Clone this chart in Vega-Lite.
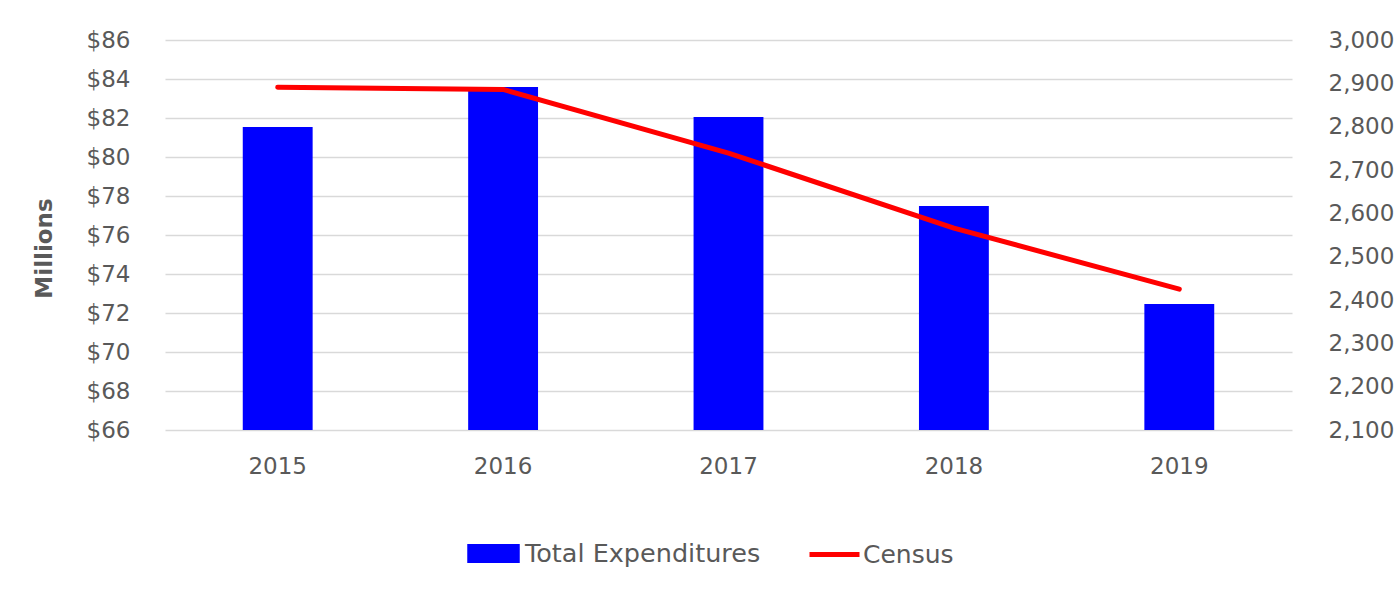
{
  "$schema": "https://vega.github.io/schema/vega-lite/v6.json",
  "width": 1127,
  "height": 390,
  "autosize": {"type": "none"},
  "padding": {"left": 165, "top": 40, "right": 105, "bottom": 159},
  "background": "white",
  "data": {
    "values": [
      {"year": "2015", "expenditures": 81.54, "census": 2891},
      {"year": "2016", "expenditures": 83.59, "census": 2886},
      {"year": "2017", "expenditures": 82.05, "census": 2739},
      {"year": "2018", "expenditures": 77.49, "census": 2566},
      {"year": "2019", "expenditures": 72.46, "census": 2425}
    ]
  },
  "encoding": {
    "x": {
      "field": "year",
      "type": "nominal",
      "scale": {"type": "band", "paddingInner": 0.69, "paddingOuter": 0.345},
      "axis": {
        "title": null,
        "labelAngle": 0,
        "domain": false,
        "ticks": false,
        "tickSize": 0,
        "labelPadding": 25,
        "labelFont": "DejaVu Sans",
        "labelFontSize": 23,
        "labelColor": "#595959"
      }
    }
  },
  "layer": [
    {
      "mark": {"type": "bar", "color": "#0000FF"},
      "encoding": {
        "y": {
          "field": "expenditures",
          "type": "quantitative",
          "scale": {"domain": [66, 86], "zero": false, "nice": false},
          "axis": {
            "title": "Millions",
            "titleFont": "DejaVu Sans",
            "titleFontSize": 23,
            "titleFontWeight": "bold",
            "titleColor": "#595959",
            "titlePadding": 30,
            "titleY": 208,
            "values": [66, 68, 70, 72, 74, 76, 78, 80, 82, 84, 86],
            "labelExpr": "'$' + datum.value",
            "labelFont": "DejaVu Sans",
            "labelFontSize": 23,
            "labelColor": "#595959",
            "labelPadding": 35,
            "ticks": false,
            "tickSize": 0,
            "domain": false,
            "grid": true,
            "gridColor": "#D9D9D9",
            "gridWidth": 1.5
          }
        },
        "y2": {"datum": 66},
        "fill": {
          "datum": "Total Expenditures",
          "type": "nominal",
          "scale": {"range": ["#0000FF"]},
          "legend": {
            "title": null,
            "orient": "none",
            "legendX": 302,
            "legendY": 487,
            "padding": 0,
            "symbolType": "M-1,-0.365H1V0.365H-1Z",
            "symbolSize": 2756,
            "symbolStrokeWidth": 0,
            "labelOffset": 5,
            "labelLimit": 500,
            "labelFont": "DejaVu Sans",
            "labelFontSize": 25.5,
            "labelColor": "#595959"
          }
        }
      }
    },
    {
      "mark": {"type": "line", "strokeWidth": 5, "strokeCap": "round", "strokeJoin": "round"},
      "encoding": {
        "y": {
          "field": "census",
          "type": "quantitative",
          "scale": {"domain": [2100, 3000], "zero": false, "nice": false},
          "axis": {
            "orient": "right",
            "title": null,
            "values": [2100, 2200, 2300, 2400, 2500, 2600, 2700, 2800, 2900, 3000],
            "format": ",d",
            "labelFont": "DejaVu Sans",
            "labelFontSize": 23,
            "labelColor": "#595959",
            "labelPadding": 36,
            "ticks": false,
            "tickSize": 0,
            "domain": false,
            "grid": false
          }
        },
        "stroke": {
          "datum": "Census",
          "type": "nominal",
          "scale": {"range": ["#FF0000"]},
          "legend": {
            "title": null,
            "orient": "none",
            "legendX": 642,
            "legendY": 487,
            "padding": 0,
            "symbolType": "M-1,0H1",
            "symbolSize": 2500,
            "symbolStrokeWidth": 5,
            "labelOffset": 1,
            "labelLimit": 500,
            "labelFont": "DejaVu Sans",
            "labelFontSize": 25,
            "labelColor": "#595959"
          }
        }
      }
    }
  ],
  "resolve": {"scale": {"y": "independent"}},
  "config": {"view": {"stroke": null}}
}
